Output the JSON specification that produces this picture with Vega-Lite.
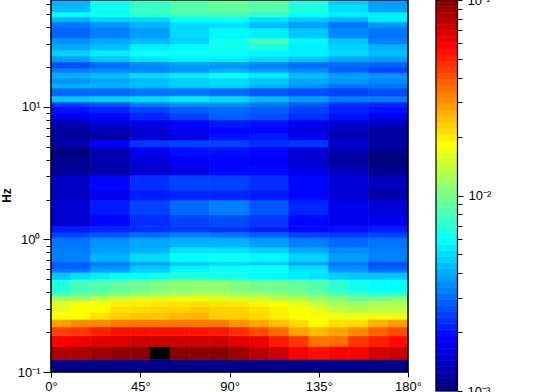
{"$schema":"https://vega.github.io/schema/vega-lite/v6.json","width":357,"height":372,"autosize":{"type":"none"},"padding":{"left":51,"top":0,"right":136,"bottom":20},"background":"white","config":{"view":{"stroke":null},"axis":{"grid":false,"labelFont":"Liberation Sans","labelFontSize":13,"labelColor":"#000","tickColor":"#000","domainColor":"#000","titleColor":"#000"}},
"datasets":{"heat":[
{"a":0,"b":180,"f":0.1,"g":0.125,"v":0.00105},
{"a":0,"b":10,"f":0.125,"g":0.156,"v":0.0794},{"a":10,"b":20,"f":0.125,"g":0.156,"v":0.0813},{"a":20,"b":30,"f":0.125,"g":0.156,"v":0.0871},{"a":30,"b":40,"f":0.125,"g":0.156,"v":0.0933},{"a":40,"b":50,"f":0.125,"g":0.156,"v":0.0933},{"a":50,"b":60,"f":0.125,"g":0.156,"v":0.12},{"a":60,"b":70,"f":0.125,"g":0.156,"v":0.0955},{"a":70,"b":80,"f":0.125,"g":0.156,"v":0.0955},{"a":80,"b":90,"f":0.125,"g":0.156,"v":0.0955},{"a":90,"b":100,"f":0.125,"g":0.156,"v":0.0871},{"a":100,"b":110,"f":0.125,"g":0.156,"v":0.0759},{"a":110,"b":120,"f":0.125,"g":0.156,"v":0.0708},{"a":120,"b":130,"f":0.125,"g":0.156,"v":0.0562},{"a":130,"b":140,"f":0.125,"g":0.156,"v":0.0525},{"a":140,"b":150,"f":0.125,"g":0.156,"v":0.0562},{"a":150,"b":160,"f":0.125,"g":0.156,"v":0.0562},{"a":160,"b":170,"f":0.125,"g":0.156,"v":0.0676},{"a":170,"b":180,"f":0.125,"g":0.156,"v":0.0708},
{"a":0,"b":10,"f":0.156,"g":0.1875,"v":0.0562},{"a":10,"b":20,"f":0.156,"g":0.1875,"v":0.0603},{"a":20,"b":30,"f":0.156,"g":0.1875,"v":0.0646},{"a":30,"b":40,"f":0.156,"g":0.1875,"v":0.0646},{"a":40,"b":50,"f":0.156,"g":0.1875,"v":0.0708},{"a":50,"b":60,"f":0.156,"g":0.1875,"v":0.0708},{"a":60,"b":70,"f":0.156,"g":0.1875,"v":0.0708},{"a":70,"b":80,"f":0.156,"g":0.1875,"v":0.0708},{"a":80,"b":90,"f":0.156,"g":0.1875,"v":0.0692},{"a":90,"b":100,"f":0.156,"g":0.1875,"v":0.0646},{"a":100,"b":110,"f":0.156,"g":0.1875,"v":0.0603},{"a":110,"b":120,"f":0.156,"g":0.1875,"v":0.0501},{"a":120,"b":130,"f":0.156,"g":0.1875,"v":0.0437},{"a":130,"b":140,"f":0.156,"g":0.1875,"v":0.0331},{"a":140,"b":150,"f":0.156,"g":0.1875,"v":0.0339},{"a":150,"b":160,"f":0.156,"g":0.1875,"v":0.0437},{"a":160,"b":170,"f":0.156,"g":0.1875,"v":0.049},{"a":170,"b":180,"f":0.156,"g":0.1875,"v":0.0537},
{"a":0,"b":10,"f":0.1875,"g":0.219,"v":0.0417},{"a":10,"b":20,"f":0.1875,"g":0.219,"v":0.0437},{"a":20,"b":30,"f":0.1875,"g":0.219,"v":0.049},{"a":30,"b":40,"f":0.1875,"g":0.219,"v":0.0525},{"a":40,"b":50,"f":0.1875,"g":0.219,"v":0.0525},{"a":50,"b":60,"f":0.1875,"g":0.219,"v":0.0525},{"a":60,"b":70,"f":0.1875,"g":0.219,"v":0.0525},{"a":70,"b":80,"f":0.1875,"g":0.219,"v":0.0513},{"a":80,"b":90,"f":0.1875,"g":0.219,"v":0.0501},{"a":90,"b":100,"f":0.1875,"g":0.219,"v":0.0457},{"a":100,"b":110,"f":0.1875,"g":0.219,"v":0.0398},{"a":110,"b":120,"f":0.1875,"g":0.219,"v":0.0347},{"a":120,"b":130,"f":0.1875,"g":0.219,"v":0.0269},{"a":130,"b":140,"f":0.1875,"g":0.219,"v":0.024},{"a":140,"b":150,"f":0.1875,"g":0.219,"v":0.0269},{"a":150,"b":160,"f":0.1875,"g":0.219,"v":0.0302},{"a":160,"b":170,"f":0.1875,"g":0.219,"v":0.0363},{"a":170,"b":180,"f":0.1875,"g":0.219,"v":0.0398},
{"a":0,"b":10,"f":0.219,"g":0.25,"v":0.0275},{"a":10,"b":20,"f":0.219,"g":0.25,"v":0.0302},{"a":20,"b":30,"f":0.219,"g":0.25,"v":0.0302},{"a":30,"b":40,"f":0.219,"g":0.25,"v":0.0324},{"a":40,"b":50,"f":0.219,"g":0.25,"v":0.0324},{"a":50,"b":60,"f":0.219,"g":0.25,"v":0.0324},{"a":60,"b":70,"f":0.219,"g":0.25,"v":0.0324},{"a":70,"b":80,"f":0.219,"g":0.25,"v":0.0324},{"a":80,"b":90,"f":0.219,"g":0.25,"v":0.0324},{"a":90,"b":100,"f":0.219,"g":0.25,"v":0.0288},{"a":100,"b":110,"f":0.219,"g":0.25,"v":0.0263},{"a":110,"b":120,"f":0.219,"g":0.25,"v":0.0236},{"a":120,"b":130,"f":0.219,"g":0.25,"v":0.0209},{"a":130,"b":140,"f":0.219,"g":0.25,"v":0.0178},{"a":140,"b":150,"f":0.219,"g":0.25,"v":0.0204},{"a":150,"b":160,"f":0.219,"g":0.25,"v":0.0209},{"a":160,"b":170,"f":0.219,"g":0.25,"v":0.0251},{"a":170,"b":180,"f":0.219,"g":0.25,"v":0.0275},
{"a":0,"b":10,"f":0.25,"g":0.281,"v":0.0178},{"a":10,"b":20,"f":0.25,"g":0.281,"v":0.0178},{"a":20,"b":30,"f":0.25,"g":0.281,"v":0.0204},{"a":30,"b":40,"f":0.25,"g":0.281,"v":0.0219},{"a":40,"b":50,"f":0.25,"g":0.281,"v":0.0229},{"a":50,"b":60,"f":0.25,"g":0.281,"v":0.0229},{"a":60,"b":70,"f":0.25,"g":0.281,"v":0.0245},{"a":70,"b":80,"f":0.25,"g":0.281,"v":0.0245},{"a":80,"b":90,"f":0.25,"g":0.281,"v":0.0219},{"a":90,"b":100,"f":0.25,"g":0.281,"v":0.0219},{"a":100,"b":110,"f":0.25,"g":0.281,"v":0.0209},{"a":110,"b":120,"f":0.25,"g":0.281,"v":0.0191},{"a":120,"b":130,"f":0.25,"g":0.281,"v":0.0178},{"a":130,"b":140,"f":0.25,"g":0.281,"v":0.0174},{"a":140,"b":150,"f":0.25,"g":0.281,"v":0.0166},{"a":150,"b":160,"f":0.25,"g":0.281,"v":0.0166},{"a":160,"b":170,"f":0.25,"g":0.281,"v":0.0166},{"a":170,"b":180,"f":0.25,"g":0.281,"v":0.0166},
{"a":0,"b":10,"f":0.281,"g":0.3125,"v":0.0158},{"a":10,"b":20,"f":0.281,"g":0.3125,"v":0.0178},{"a":20,"b":30,"f":0.281,"g":0.3125,"v":0.0178},{"a":30,"b":40,"f":0.281,"g":0.3125,"v":0.0204},{"a":40,"b":50,"f":0.281,"g":0.3125,"v":0.0209},{"a":50,"b":60,"f":0.281,"g":0.3125,"v":0.0219},{"a":60,"b":70,"f":0.281,"g":0.3125,"v":0.0219},{"a":70,"b":80,"f":0.281,"g":0.3125,"v":0.0229},{"a":80,"b":90,"f":0.281,"g":0.3125,"v":0.0219},{"a":90,"b":100,"f":0.281,"g":0.3125,"v":0.0219},{"a":100,"b":110,"f":0.281,"g":0.3125,"v":0.0204},{"a":110,"b":120,"f":0.281,"g":0.3125,"v":0.0191},{"a":120,"b":130,"f":0.281,"g":0.3125,"v":0.0178},{"a":130,"b":140,"f":0.281,"g":0.3125,"v":0.0158},{"a":140,"b":150,"f":0.281,"g":0.3125,"v":0.0135},{"a":150,"b":160,"f":0.281,"g":0.3125,"v":0.0126},{"a":160,"b":170,"f":0.281,"g":0.3125,"v":0.0132},{"a":170,"b":180,"f":0.281,"g":0.3125,"v":0.0132},
{"a":0,"b":10,"f":0.3125,"g":0.344,"v":0.0155},{"a":10,"b":20,"f":0.3125,"g":0.344,"v":0.0174},{"a":20,"b":30,"f":0.3125,"g":0.344,"v":0.0174},{"a":30,"b":40,"f":0.3125,"g":0.344,"v":0.0191},{"a":40,"b":50,"f":0.3125,"g":0.344,"v":0.0195},{"a":50,"b":60,"f":0.3125,"g":0.344,"v":0.02},{"a":60,"b":70,"f":0.3125,"g":0.344,"v":0.02},{"a":70,"b":80,"f":0.3125,"g":0.344,"v":0.0204},{"a":80,"b":90,"f":0.3125,"g":0.344,"v":0.02},{"a":90,"b":100,"f":0.3125,"g":0.344,"v":0.0195},{"a":100,"b":110,"f":0.3125,"g":0.344,"v":0.0186},{"a":110,"b":120,"f":0.3125,"g":0.344,"v":0.0178},{"a":120,"b":130,"f":0.3125,"g":0.344,"v":0.0158},{"a":130,"b":140,"f":0.3125,"g":0.344,"v":0.0138},{"a":140,"b":150,"f":0.3125,"g":0.344,"v":0.012},{"a":150,"b":160,"f":0.3125,"g":0.344,"v":0.0115},{"a":160,"b":170,"f":0.3125,"g":0.344,"v":0.0123},{"a":170,"b":180,"f":0.3125,"g":0.344,"v":0.0126},
{"a":0,"b":10,"f":0.344,"g":0.375,"v":0.0115},{"a":10,"b":20,"f":0.344,"g":0.375,"v":0.0115},{"a":20,"b":30,"f":0.344,"g":0.375,"v":0.0132},{"a":30,"b":40,"f":0.344,"g":0.375,"v":0.0145},{"a":40,"b":50,"f":0.344,"g":0.375,"v":0.0155},{"a":50,"b":60,"f":0.344,"g":0.375,"v":0.0155},{"a":60,"b":70,"f":0.344,"g":0.375,"v":0.0166},{"a":70,"b":80,"f":0.344,"g":0.375,"v":0.0166},{"a":80,"b":90,"f":0.344,"g":0.375,"v":0.0155},{"a":90,"b":100,"f":0.344,"g":0.375,"v":0.0148},{"a":100,"b":110,"f":0.344,"g":0.375,"v":0.0145},{"a":110,"b":120,"f":0.344,"g":0.375,"v":0.0132},{"a":120,"b":130,"f":0.344,"g":0.375,"v":0.0126},{"a":130,"b":140,"f":0.344,"g":0.375,"v":0.011},{"a":140,"b":150,"f":0.344,"g":0.375,"v":0.01},{"a":150,"b":160,"f":0.344,"g":0.375,"v":0.00871},{"a":160,"b":170,"f":0.344,"g":0.375,"v":0.00933},{"a":170,"b":180,"f":0.344,"g":0.375,"v":0.01},
{"a":0,"b":10,"f":0.375,"g":0.406,"v":0.00759},{"a":10,"b":20,"f":0.375,"g":0.406,"v":0.00871},{"a":20,"b":30,"f":0.375,"g":0.406,"v":0.00933},{"a":30,"b":40,"f":0.375,"g":0.406,"v":0.01},{"a":40,"b":50,"f":0.375,"g":0.406,"v":0.0107},{"a":50,"b":60,"f":0.375,"g":0.406,"v":0.0115},{"a":60,"b":70,"f":0.375,"g":0.406,"v":0.012},{"a":70,"b":80,"f":0.375,"g":0.406,"v":0.0126},{"a":80,"b":90,"f":0.375,"g":0.406,"v":0.0126},{"a":90,"b":100,"f":0.375,"g":0.406,"v":0.0115},{"a":100,"b":110,"f":0.375,"g":0.406,"v":0.0115},{"a":110,"b":120,"f":0.375,"g":0.406,"v":0.0107},{"a":120,"b":130,"f":0.375,"g":0.406,"v":0.01},{"a":130,"b":140,"f":0.375,"g":0.406,"v":0.00933},{"a":140,"b":150,"f":0.375,"g":0.406,"v":0.00811},{"a":150,"b":160,"f":0.375,"g":0.406,"v":0.00759},{"a":160,"b":170,"f":0.375,"g":0.406,"v":0.00692},{"a":170,"b":180,"f":0.375,"g":0.406,"v":0.00692},
{"a":0,"b":10,"f":0.406,"g":0.5,"v":0.00646},{"a":10,"b":20,"f":0.406,"g":0.5,"v":0.00759},{"a":20,"b":30,"f":0.406,"g":0.5,"v":0.00811},{"a":30,"b":40,"f":0.406,"g":0.5,"v":0.00871},{"a":40,"b":50,"f":0.406,"g":0.5,"v":0.00933},{"a":50,"b":60,"f":0.406,"g":0.5,"v":0.01},{"a":60,"b":70,"f":0.406,"g":0.5,"v":0.0105},{"a":70,"b":80,"f":0.406,"g":0.5,"v":0.0107},{"a":80,"b":90,"f":0.406,"g":0.5,"v":0.0107},{"a":90,"b":100,"f":0.406,"g":0.5,"v":0.01},{"a":100,"b":110,"f":0.406,"g":0.5,"v":0.00933},{"a":110,"b":120,"f":0.406,"g":0.5,"v":0.00933},{"a":120,"b":130,"f":0.406,"g":0.5,"v":0.00871},{"a":130,"b":140,"f":0.406,"g":0.5,"v":0.00811},{"a":140,"b":150,"f":0.406,"g":0.5,"v":0.00692},{"a":150,"b":160,"f":0.406,"g":0.5,"v":0.00603},{"a":160,"b":170,"f":0.406,"g":0.5,"v":0.00562},{"a":170,"b":180,"f":0.406,"g":0.5,"v":0.00562},
{"a":0,"b":10,"f":0.5,"g":0.5625,"v":0.00437},{"a":10,"b":20,"f":0.5,"g":0.5625,"v":0.0049},{"a":20,"b":30,"f":0.5,"g":0.5625,"v":0.00525},{"a":30,"b":40,"f":0.5,"g":0.5625,"v":0.00562},{"a":40,"b":50,"f":0.5,"g":0.5625,"v":0.00562},{"a":50,"b":60,"f":0.5,"g":0.5625,"v":0.00603},{"a":60,"b":70,"f":0.5,"g":0.5625,"v":0.00646},{"a":70,"b":80,"f":0.5,"g":0.5625,"v":0.00646},{"a":80,"b":90,"f":0.5,"g":0.5625,"v":0.00603},{"a":90,"b":100,"f":0.5,"g":0.5625,"v":0.00603},{"a":100,"b":110,"f":0.5,"g":0.5625,"v":0.00562},{"a":110,"b":120,"f":0.5,"g":0.5625,"v":0.0055},{"a":120,"b":130,"f":0.5,"g":0.5625,"v":0.00525},{"a":130,"b":140,"f":0.5,"g":0.5625,"v":0.00501},{"a":140,"b":150,"f":0.5,"g":0.5625,"v":0.00457},{"a":150,"b":160,"f":0.5,"g":0.5625,"v":0.00437},{"a":160,"b":170,"f":0.5,"g":0.5625,"v":0.00437},{"a":170,"b":180,"f":0.5,"g":0.5625,"v":0.00437},
{"a":0,"b":20,"f":0.5625,"g":0.594,"v":0.00316},{"a":20,"b":40,"f":0.5625,"g":0.594,"v":0.0038},{"a":40,"b":60,"f":0.5625,"g":0.594,"v":0.00457},{"a":60,"b":80,"f":0.5625,"g":0.594,"v":0.0055},{"a":80,"b":100,"f":0.5625,"g":0.594,"v":0.00603},{"a":100,"b":120,"f":0.5625,"g":0.594,"v":0.00589},{"a":120,"b":140,"f":0.5625,"g":0.594,"v":0.00501},{"a":140,"b":160,"f":0.5625,"g":0.594,"v":0.00363},{"a":160,"b":180,"f":0.5625,"g":0.594,"v":0.00302},
{"a":0,"b":20,"f":0.594,"g":0.642,"v":0.00275},{"a":20,"b":40,"f":0.594,"g":0.642,"v":0.00347},{"a":40,"b":60,"f":0.594,"g":0.642,"v":0.00437},{"a":60,"b":80,"f":0.594,"g":0.642,"v":0.00525},{"a":80,"b":100,"f":0.594,"g":0.642,"v":0.00575},{"a":100,"b":120,"f":0.594,"g":0.642,"v":0.00562},{"a":120,"b":140,"f":0.594,"g":0.642,"v":0.00479},{"a":140,"b":160,"f":0.594,"g":0.642,"v":0.00331},{"a":160,"b":180,"f":0.594,"g":0.642,"v":0.00275},
{"a":0,"b":20,"f":0.642,"g":0.676,"v":0.00275},{"a":20,"b":40,"f":0.642,"g":0.676,"v":0.00302},{"a":40,"b":60,"f":0.642,"g":0.676,"v":0.00347},{"a":60,"b":80,"f":0.642,"g":0.676,"v":0.00417},{"a":80,"b":100,"f":0.642,"g":0.676,"v":0.00457},{"a":100,"b":120,"f":0.642,"g":0.676,"v":0.00417},{"a":120,"b":140,"f":0.642,"g":0.676,"v":0.00363},{"a":140,"b":160,"f":0.642,"g":0.676,"v":0.00302},{"a":160,"b":180,"f":0.642,"g":0.676,"v":0.00251},
{"a":0,"b":20,"f":0.676,"g":0.791,"v":0.00316},{"a":20,"b":40,"f":0.676,"g":0.791,"v":0.00398},{"a":40,"b":60,"f":0.676,"g":0.791,"v":0.00479},{"a":60,"b":80,"f":0.676,"g":0.791,"v":0.00562},{"a":80,"b":100,"f":0.676,"g":0.791,"v":0.00589},{"a":100,"b":120,"f":0.676,"g":0.791,"v":0.0055},{"a":120,"b":140,"f":0.676,"g":0.791,"v":0.00457},{"a":140,"b":160,"f":0.676,"g":0.791,"v":0.00363},{"a":160,"b":180,"f":0.676,"g":0.791,"v":0.00316},
{"a":0,"b":20,"f":0.791,"g":0.877,"v":0.00316},{"a":20,"b":40,"f":0.791,"g":0.877,"v":0.00363},{"a":40,"b":60,"f":0.791,"g":0.877,"v":0.00398},{"a":60,"b":80,"f":0.791,"g":0.877,"v":0.00501},{"a":80,"b":100,"f":0.791,"g":0.877,"v":0.00501},{"a":100,"b":120,"f":0.791,"g":0.877,"v":0.00457},{"a":120,"b":140,"f":0.791,"g":0.877,"v":0.0038},{"a":140,"b":160,"f":0.791,"g":0.877,"v":0.00331},{"a":160,"b":180,"f":0.791,"g":0.877,"v":0.00316},
{"a":0,"b":20,"f":0.877,"g":1.03,"v":0.00302},{"a":20,"b":40,"f":0.877,"g":1.03,"v":0.00347},{"a":40,"b":60,"f":0.877,"g":1.03,"v":0.0038},{"a":60,"b":80,"f":0.877,"g":1.03,"v":0.00398},{"a":80,"b":100,"f":0.877,"g":1.03,"v":0.00398},{"a":100,"b":120,"f":0.877,"g":1.03,"v":0.00363},{"a":120,"b":140,"f":0.877,"g":1.03,"v":0.00316},{"a":140,"b":160,"f":0.877,"g":1.03,"v":0.00288},{"a":160,"b":180,"f":0.877,"g":1.03,"v":0.00302},
{"a":0,"b":20,"f":1.03,"g":1.14,"v":0.0024},{"a":20,"b":40,"f":1.03,"g":1.14,"v":0.00263},{"a":40,"b":60,"f":1.03,"g":1.14,"v":0.00288},{"a":60,"b":80,"f":1.03,"g":1.14,"v":0.00316},{"a":80,"b":100,"f":1.03,"g":1.14,"v":0.00302},{"a":100,"b":120,"f":1.03,"g":1.14,"v":0.00275},{"a":120,"b":140,"f":1.03,"g":1.14,"v":0.0024},{"a":140,"b":160,"f":1.03,"g":1.14,"v":0.00229},{"a":160,"b":180,"f":1.03,"g":1.14,"v":0.0024},
{"a":0,"b":20,"f":1.14,"g":1.26,"v":0.002},{"a":20,"b":40,"f":1.14,"g":1.26,"v":0.00209},{"a":40,"b":60,"f":1.14,"g":1.26,"v":0.00219},{"a":60,"b":80,"f":1.14,"g":1.26,"v":0.00229},{"a":80,"b":100,"f":1.14,"g":1.26,"v":0.00219},{"a":100,"b":120,"f":1.14,"g":1.26,"v":0.002},{"a":120,"b":140,"f":1.14,"g":1.26,"v":0.00182},{"a":140,"b":160,"f":1.14,"g":1.26,"v":0.00191},{"a":160,"b":180,"f":1.14,"g":1.26,"v":0.002},
{"a":0,"b":20,"f":1.26,"g":1.53,"v":0.00145},{"a":20,"b":40,"f":1.26,"g":1.53,"v":0.00182},{"a":40,"b":60,"f":1.26,"g":1.53,"v":0.00219},{"a":60,"b":80,"f":1.26,"g":1.53,"v":0.0024},{"a":80,"b":100,"f":1.26,"g":1.53,"v":0.00251},{"a":100,"b":120,"f":1.26,"g":1.53,"v":0.00229},{"a":120,"b":140,"f":1.26,"g":1.53,"v":0.00182},{"a":140,"b":160,"f":1.26,"g":1.53,"v":0.00166},{"a":160,"b":180,"f":1.26,"g":1.53,"v":0.00166},
{"a":0,"b":20,"f":1.53,"g":1.99,"v":0.00145},{"a":20,"b":40,"f":1.53,"g":1.99,"v":0.002},{"a":40,"b":60,"f":1.53,"g":1.99,"v":0.0024},{"a":60,"b":80,"f":1.53,"g":1.99,"v":0.00288},{"a":80,"b":100,"f":1.53,"g":1.99,"v":0.00316},{"a":100,"b":120,"f":1.53,"g":1.99,"v":0.00263},{"a":120,"b":140,"f":1.53,"g":1.99,"v":0.00209},{"a":140,"b":160,"f":1.53,"g":1.99,"v":0.00166},{"a":160,"b":180,"f":1.53,"g":1.99,"v":0.00151},
{"a":0,"b":20,"f":1.99,"g":2.36,"v":0.00138},{"a":20,"b":40,"f":1.99,"g":2.36,"v":0.00166},{"a":40,"b":60,"f":1.99,"g":2.36,"v":0.002},{"a":60,"b":80,"f":1.99,"g":2.36,"v":0.00209},{"a":80,"b":100,"f":1.99,"g":2.36,"v":0.00209},{"a":100,"b":120,"f":1.99,"g":2.36,"v":0.002},{"a":120,"b":140,"f":1.99,"g":2.36,"v":0.00182},{"a":140,"b":160,"f":1.99,"g":2.36,"v":0.00145},{"a":160,"b":180,"f":1.99,"g":2.36,"v":0.0012},
{"a":0,"b":20,"f":2.36,"g":3.07,"v":0.00138},{"a":20,"b":40,"f":2.36,"g":3.07,"v":0.00182},{"a":40,"b":60,"f":2.36,"g":3.07,"v":0.00219},{"a":60,"b":80,"f":2.36,"g":3.07,"v":0.0024},{"a":80,"b":100,"f":2.36,"g":3.07,"v":0.0024},{"a":100,"b":120,"f":2.36,"g":3.07,"v":0.00219},{"a":120,"b":140,"f":2.36,"g":3.07,"v":0.00182},{"a":140,"b":160,"f":2.36,"g":3.07,"v":0.00151},{"a":160,"b":180,"f":2.36,"g":3.07,"v":0.00132},
{"a":0,"b":20,"f":3.07,"g":3.65,"v":0.0011},{"a":20,"b":40,"f":3.07,"g":3.65,"v":0.0012},{"a":40,"b":60,"f":3.07,"g":3.65,"v":0.00145},{"a":60,"b":80,"f":3.07,"g":3.65,"v":0.00158},{"a":80,"b":100,"f":3.07,"g":3.65,"v":0.00182},{"a":100,"b":120,"f":3.07,"g":3.65,"v":0.00182},{"a":120,"b":140,"f":3.07,"g":3.65,"v":0.00158},{"a":140,"b":160,"f":3.07,"g":3.65,"v":0.00132},{"a":160,"b":180,"f":3.07,"g":3.65,"v":0.00105},
{"a":0,"b":20,"f":3.65,"g":4.34,"v":0.00105},{"a":20,"b":40,"f":3.65,"g":4.34,"v":0.00126},{"a":40,"b":60,"f":3.65,"g":4.34,"v":0.00151},{"a":60,"b":80,"f":3.65,"g":4.34,"v":0.00174},{"a":80,"b":100,"f":3.65,"g":4.34,"v":0.00182},{"a":100,"b":120,"f":3.65,"g":4.34,"v":0.00174},{"a":120,"b":140,"f":3.65,"g":4.34,"v":0.00145},{"a":140,"b":160,"f":3.65,"g":4.34,"v":0.00115},{"a":160,"b":180,"f":3.65,"g":4.34,"v":0.001},
{"a":0,"b":20,"f":4.34,"g":4.99,"v":0.001},{"a":20,"b":40,"f":4.34,"g":4.99,"v":0.00126},{"a":40,"b":60,"f":4.34,"g":4.99,"v":0.00166},{"a":60,"b":80,"f":4.34,"g":4.99,"v":0.00191},{"a":80,"b":100,"f":4.34,"g":4.99,"v":0.00191},{"a":100,"b":120,"f":4.34,"g":4.99,"v":0.00182},{"a":120,"b":140,"f":4.34,"g":4.99,"v":0.00151},{"a":140,"b":160,"f":4.34,"g":4.99,"v":0.00126},{"a":160,"b":180,"f":4.34,"g":4.99,"v":0.00105},
{"a":0,"b":20,"f":4.99,"g":5.64,"v":0.00123},{"a":20,"b":40,"f":4.99,"g":5.64,"v":0.00178},{"a":40,"b":60,"f":4.99,"g":5.64,"v":0.00229},{"a":60,"b":80,"f":4.99,"g":5.64,"v":0.0024},{"a":80,"b":100,"f":4.99,"g":5.64,"v":0.0024},{"a":100,"b":120,"f":4.99,"g":5.64,"v":0.00219},{"a":120,"b":140,"f":4.99,"g":5.64,"v":0.00229},{"a":140,"b":160,"f":4.99,"g":5.64,"v":0.00145},{"a":160,"b":180,"f":4.99,"g":5.64,"v":0.0012},
{"a":0,"b":20,"f":5.64,"g":6.37,"v":0.00115},{"a":20,"b":40,"f":5.64,"g":6.37,"v":0.0012},{"a":40,"b":60,"f":5.64,"g":6.37,"v":0.00145},{"a":60,"b":80,"f":5.64,"g":6.37,"v":0.00158},{"a":80,"b":100,"f":5.64,"g":6.37,"v":0.00191},{"a":100,"b":120,"f":5.64,"g":6.37,"v":0.002},{"a":120,"b":140,"f":5.64,"g":6.37,"v":0.00166},{"a":140,"b":160,"f":5.64,"g":6.37,"v":0.00126},{"a":160,"b":180,"f":5.64,"g":6.37,"v":0.00115},
{"a":0,"b":20,"f":6.37,"g":7.06,"v":0.00115},{"a":20,"b":40,"f":6.37,"g":7.06,"v":0.00126},{"a":40,"b":60,"f":6.37,"g":7.06,"v":0.00145},{"a":60,"b":80,"f":6.37,"g":7.06,"v":0.00166},{"a":80,"b":100,"f":6.37,"g":7.06,"v":0.00182},{"a":100,"b":120,"f":6.37,"g":7.06,"v":0.00182},{"a":120,"b":140,"f":6.37,"g":7.06,"v":0.00151},{"a":140,"b":160,"f":6.37,"g":7.06,"v":0.00132},{"a":160,"b":180,"f":6.37,"g":7.06,"v":0.00115},
{"a":0,"b":20,"f":7.06,"g":7.98,"v":0.00126},{"a":20,"b":40,"f":7.06,"g":7.98,"v":0.00145},{"a":40,"b":60,"f":7.06,"g":7.98,"v":0.00158},{"a":60,"b":80,"f":7.06,"g":7.98,"v":0.00178},{"a":80,"b":100,"f":7.06,"g":7.98,"v":0.002},{"a":100,"b":120,"f":7.06,"g":7.98,"v":0.00191},{"a":120,"b":140,"f":7.06,"g":7.98,"v":0.00166},{"a":140,"b":160,"f":7.06,"g":7.98,"v":0.00145},{"a":160,"b":180,"f":7.06,"g":7.98,"v":0.00138},
{"a":0,"b":20,"f":7.98,"g":9.01,"v":0.00166},{"a":20,"b":40,"f":7.98,"g":9.01,"v":0.00182},{"a":40,"b":60,"f":7.98,"g":9.01,"v":0.00209},{"a":60,"b":80,"f":7.98,"g":9.01,"v":0.0024},{"a":80,"b":100,"f":7.98,"g":9.01,"v":0.00275},{"a":100,"b":120,"f":7.98,"g":9.01,"v":0.00251},{"a":120,"b":140,"f":7.98,"g":9.01,"v":0.00219},{"a":140,"b":160,"f":7.98,"g":9.01,"v":0.00191},{"a":160,"b":180,"f":7.98,"g":9.01,"v":0.00166},
{"a":0,"b":20,"f":9.01,"g":10,"v":0.00191},{"a":20,"b":40,"f":9.01,"g":10,"v":0.00209},{"a":40,"b":60,"f":9.01,"g":10,"v":0.0024},{"a":60,"b":80,"f":9.01,"g":10,"v":0.00275},{"a":80,"b":100,"f":9.01,"g":10,"v":0.00288},{"a":100,"b":120,"f":9.01,"g":10,"v":0.00275},{"a":120,"b":140,"f":9.01,"g":10,"v":0.0024},{"a":140,"b":160,"f":9.01,"g":10,"v":0.00209},{"a":160,"b":180,"f":9.01,"g":10,"v":0.00191},
{"a":0,"b":20,"f":10,"g":10.9,"v":0.00229},{"a":20,"b":40,"f":10,"g":10.9,"v":0.00251},{"a":40,"b":60,"f":10,"g":10.9,"v":0.00302},{"a":60,"b":80,"f":10,"g":10.9,"v":0.00331},{"a":80,"b":100,"f":10,"g":10.9,"v":0.00331},{"a":100,"b":120,"f":10,"g":10.9,"v":0.00302},{"a":120,"b":140,"f":10,"g":10.9,"v":0.00263},{"a":140,"b":160,"f":10,"g":10.9,"v":0.00219},{"a":160,"b":180,"f":10,"g":10.9,"v":0.00209},
{"a":0,"b":20,"f":10.9,"g":12.1,"v":0.00437},{"a":20,"b":40,"f":10.9,"g":12.1,"v":0.00457},{"a":40,"b":60,"f":10.9,"g":12.1,"v":0.00479},{"a":60,"b":80,"f":10.9,"g":12.1,"v":0.00525},{"a":80,"b":100,"f":10.9,"g":12.1,"v":0.00479},{"a":100,"b":120,"f":10.9,"g":12.1,"v":0.00417},{"a":120,"b":140,"f":10.9,"g":12.1,"v":0.00363},{"a":140,"b":160,"f":10.9,"g":12.1,"v":0.00316},{"a":160,"b":180,"f":10.9,"g":12.1,"v":0.00316},
{"a":0,"b":20,"f":12.1,"g":13.9,"v":0.00288},{"a":20,"b":40,"f":12.1,"g":13.9,"v":0.00288},{"a":40,"b":60,"f":12.1,"g":13.9,"v":0.00302},{"a":60,"b":80,"f":12.1,"g":13.9,"v":0.00302},{"a":80,"b":100,"f":12.1,"g":13.9,"v":0.00288},{"a":100,"b":120,"f":12.1,"g":13.9,"v":0.00263},{"a":120,"b":140,"f":12.1,"g":13.9,"v":0.00251},{"a":140,"b":160,"f":12.1,"g":13.9,"v":0.0024},{"a":160,"b":180,"f":12.1,"g":13.9,"v":0.00251},
{"a":0,"b":20,"f":13.9,"g":14.9,"v":0.00398},{"a":20,"b":40,"f":13.9,"g":14.9,"v":0.00398},{"a":40,"b":60,"f":13.9,"g":14.9,"v":0.00417},{"a":60,"b":80,"f":13.9,"g":14.9,"v":0.00437},{"a":80,"b":100,"f":13.9,"g":14.9,"v":0.00457},{"a":100,"b":120,"f":13.9,"g":14.9,"v":0.00398},{"a":120,"b":140,"f":13.9,"g":14.9,"v":0.00347},{"a":140,"b":160,"f":13.9,"g":14.9,"v":0.00302},{"a":160,"b":180,"f":13.9,"g":14.9,"v":0.00302},
{"a":0,"b":20,"f":14.9,"g":16.6,"v":0.00347},{"a":20,"b":40,"f":14.9,"g":16.6,"v":0.0038},{"a":40,"b":60,"f":14.9,"g":16.6,"v":0.00417},{"a":60,"b":80,"f":14.9,"g":16.6,"v":0.00457},{"a":80,"b":100,"f":14.9,"g":16.6,"v":0.00479},{"a":100,"b":120,"f":14.9,"g":16.6,"v":0.00437},{"a":120,"b":140,"f":14.9,"g":16.6,"v":0.0038},{"a":140,"b":160,"f":14.9,"g":16.6,"v":0.00347},{"a":160,"b":180,"f":14.9,"g":16.6,"v":0.00331},
{"a":0,"b":20,"f":16.6,"g":18.1,"v":0.00398},{"a":20,"b":40,"f":16.6,"g":18.1,"v":0.00417},{"a":40,"b":60,"f":16.6,"g":18.1,"v":0.00479},{"a":60,"b":80,"f":16.6,"g":18.1,"v":0.00525},{"a":80,"b":100,"f":16.6,"g":18.1,"v":0.00575},{"a":100,"b":120,"f":16.6,"g":18.1,"v":0.00525},{"a":120,"b":140,"f":16.6,"g":18.1,"v":0.00417},{"a":140,"b":160,"f":16.6,"g":18.1,"v":0.00363},{"a":160,"b":180,"f":16.6,"g":18.1,"v":0.00347},
{"a":0,"b":20,"f":18.1,"g":19.7,"v":0.00316},{"a":20,"b":40,"f":18.1,"g":19.7,"v":0.00331},{"a":40,"b":60,"f":18.1,"g":19.7,"v":0.00331},{"a":60,"b":80,"f":18.1,"g":19.7,"v":0.00347},{"a":80,"b":100,"f":18.1,"g":19.7,"v":0.00398},{"a":100,"b":120,"f":18.1,"g":19.7,"v":0.00363},{"a":120,"b":140,"f":18.1,"g":19.7,"v":0.00331},{"a":140,"b":160,"f":18.1,"g":19.7,"v":0.00275},{"a":160,"b":180,"f":18.1,"g":19.7,"v":0.0024},
{"a":0,"b":20,"f":19.7,"g":21.9,"v":0.00251},{"a":20,"b":40,"f":19.7,"g":21.9,"v":0.00288},{"a":40,"b":60,"f":19.7,"g":21.9,"v":0.00331},{"a":60,"b":80,"f":19.7,"g":21.9,"v":0.00363},{"a":80,"b":100,"f":19.7,"g":21.9,"v":0.00347},{"a":100,"b":120,"f":19.7,"g":21.9,"v":0.00316},{"a":120,"b":140,"f":19.7,"g":21.9,"v":0.00288},{"a":140,"b":160,"f":19.7,"g":21.9,"v":0.00288},{"a":160,"b":180,"f":19.7,"g":21.9,"v":0.00275},
{"a":0,"b":20,"f":21.9,"g":24.3,"v":0.00363},{"a":20,"b":40,"f":21.9,"g":24.3,"v":0.00437},{"a":40,"b":60,"f":21.9,"g":24.3,"v":0.00501},{"a":60,"b":80,"f":21.9,"g":24.3,"v":0.00525},{"a":80,"b":100,"f":21.9,"g":24.3,"v":0.00525},{"a":100,"b":120,"f":21.9,"g":24.3,"v":0.00479},{"a":120,"b":140,"f":21.9,"g":24.3,"v":0.00437},{"a":140,"b":160,"f":21.9,"g":24.3,"v":0.0038},{"a":160,"b":180,"f":21.9,"g":24.3,"v":0.00363},
{"a":0,"b":20,"f":24.3,"g":26.9,"v":0.00457},{"a":20,"b":40,"f":24.3,"g":26.9,"v":0.00525},{"a":40,"b":60,"f":24.3,"g":26.9,"v":0.00589},{"a":60,"b":80,"f":24.3,"g":26.9,"v":0.00589},{"a":80,"b":100,"f":24.3,"g":26.9,"v":0.00575},{"a":100,"b":120,"f":24.3,"g":26.9,"v":0.0055},{"a":120,"b":140,"f":24.3,"g":26.9,"v":0.00525},{"a":140,"b":160,"f":24.3,"g":26.9,"v":0.00479},{"a":160,"b":180,"f":24.3,"g":26.9,"v":0.00417},
{"a":0,"b":20,"f":26.9,"g":29.9,"v":0.0038},{"a":20,"b":40,"f":26.9,"g":29.9,"v":0.00417},{"a":40,"b":60,"f":26.9,"g":29.9,"v":0.00525},{"a":60,"b":80,"f":26.9,"g":29.9,"v":0.0055},{"a":80,"b":100,"f":26.9,"g":29.9,"v":0.00603},{"a":100,"b":120,"f":26.9,"g":29.9,"v":0.00631},{"a":120,"b":140,"f":26.9,"g":29.9,"v":0.00525},{"a":140,"b":160,"f":26.9,"g":29.9,"v":0.00457},{"a":160,"b":180,"f":26.9,"g":29.9,"v":0.00398},
{"a":0,"b":20,"f":29.9,"g":33.2,"v":0.00347},{"a":20,"b":40,"f":29.9,"g":33.2,"v":0.0038},{"a":40,"b":60,"f":29.9,"g":33.2,"v":0.00417},{"a":60,"b":80,"f":29.9,"g":33.2,"v":0.00457},{"a":80,"b":100,"f":29.9,"g":33.2,"v":0.00603},{"a":100,"b":120,"f":29.9,"g":33.2,"v":0.00759},{"a":120,"b":140,"f":29.9,"g":33.2,"v":0.0055},{"a":140,"b":160,"f":29.9,"g":33.2,"v":0.00437},{"a":160,"b":180,"f":29.9,"g":33.2,"v":0.00316},
{"a":0,"b":20,"f":33.2,"g":39.5,"v":0.00282},{"a":20,"b":40,"f":33.2,"g":39.5,"v":0.00316},{"a":40,"b":60,"f":33.2,"g":39.5,"v":0.00363},{"a":60,"b":80,"f":33.2,"g":39.5,"v":0.00479},{"a":80,"b":100,"f":33.2,"g":39.5,"v":0.0055},{"a":100,"b":120,"f":33.2,"g":39.5,"v":0.00525},{"a":120,"b":140,"f":33.2,"g":39.5,"v":0.00437},{"a":140,"b":160,"f":33.2,"g":39.5,"v":0.00331},{"a":160,"b":180,"f":33.2,"g":39.5,"v":0.00302},
{"a":0,"b":20,"f":39.5,"g":43.8,"v":0.00302},{"a":20,"b":40,"f":39.5,"g":43.8,"v":0.00347},{"a":40,"b":60,"f":39.5,"g":43.8,"v":0.00398},{"a":60,"b":80,"f":39.5,"g":43.8,"v":0.00479},{"a":80,"b":100,"f":39.5,"g":43.8,"v":0.0049},{"a":100,"b":120,"f":39.5,"g":43.8,"v":0.00417},{"a":120,"b":140,"f":39.5,"g":43.8,"v":0.00363},{"a":140,"b":160,"f":39.5,"g":43.8,"v":0.00302},{"a":160,"b":180,"f":39.5,"g":43.8,"v":0.00347},
{"a":0,"b":20,"f":43.8,"g":47.8,"v":0.00398},{"a":20,"b":40,"f":43.8,"g":47.8,"v":0.00457},{"a":40,"b":60,"f":43.8,"g":47.8,"v":0.00479},{"a":60,"b":80,"f":43.8,"g":47.8,"v":0.00575},{"a":80,"b":100,"f":43.8,"g":47.8,"v":0.00575},{"a":100,"b":120,"f":43.8,"g":47.8,"v":0.00501},{"a":120,"b":140,"f":43.8,"g":47.8,"v":0.00437},{"a":140,"b":160,"f":43.8,"g":47.8,"v":0.00398},{"a":160,"b":180,"f":43.8,"g":47.8,"v":0.00525},
{"a":0,"b":20,"f":47.8,"g":52.1,"v":0.00575},{"a":20,"b":40,"f":47.8,"g":52.1,"v":0.00603},{"a":40,"b":60,"f":47.8,"g":52.1,"v":0.00692},{"a":60,"b":80,"f":47.8,"g":52.1,"v":0.00759},{"a":80,"b":100,"f":47.8,"g":52.1,"v":0.00759},{"a":100,"b":120,"f":47.8,"g":52.1,"v":0.00692},{"a":120,"b":140,"f":47.8,"g":52.1,"v":0.00575},{"a":140,"b":160,"f":47.8,"g":52.1,"v":0.00525},{"a":160,"b":180,"f":47.8,"g":52.1,"v":0.00525},
{"a":0,"b":20,"f":52.1,"g":58.9,"v":0.00417},{"a":20,"b":40,"f":52.1,"g":58.9,"v":0.00589},{"a":40,"b":60,"f":52.1,"g":58.9,"v":0.00741},{"a":60,"b":80,"f":52.1,"g":58.9,"v":0.00832},{"a":80,"b":100,"f":52.1,"g":58.9,"v":0.00891},{"a":100,"b":120,"f":52.1,"g":58.9,"v":0.00832},{"a":120,"b":140,"f":52.1,"g":58.9,"v":0.00661},{"a":140,"b":160,"f":52.1,"g":58.9,"v":0.0049},{"a":160,"b":180,"f":52.1,"g":58.9,"v":0.00372},
{"a":0,"b":20,"f":58.9,"g":64.2,"v":0.00398},{"a":20,"b":40,"f":58.9,"g":64.2,"v":0.00575},{"a":40,"b":60,"f":58.9,"g":64.2,"v":0.00692},{"a":60,"b":80,"f":58.9,"g":64.2,"v":0.00794},{"a":80,"b":100,"f":58.9,"g":64.2,"v":0.00871},{"a":100,"b":120,"f":58.9,"g":64.2,"v":0.00832},{"a":120,"b":140,"f":58.9,"g":64.2,"v":0.00631},{"a":140,"b":160,"f":58.9,"g":64.2,"v":0.00457},{"a":160,"b":180,"f":58.9,"g":64.2,"v":0.00363}
],
"bar":[
{"k":0,"m":1,"v":0.001,"w":0.0010746},{"k":0,"m":1,"v":0.0010746,"w":0.0011548},{"k":0,"m":1,"v":0.0011548,"w":0.0012409},{"k":0,"m":1,"v":0.0012409,"w":0.0013335},{"k":0,"m":1,"v":0.0013335,"w":0.001433},{"k":0,"m":1,"v":0.001433,"w":0.0015399},{"k":0,"m":1,"v":0.0015399,"w":0.0016548},{"k":0,"m":1,"v":0.0016548,"w":0.0017783},{"k":0,"m":1,"v":0.0017783,"w":0.001911},{"k":0,"m":1,"v":0.001911,"w":0.0020535},{"k":0,"m":1,"v":0.0020535,"w":0.0022067},{"k":0,"m":1,"v":0.0022067,"w":0.0023714},{"k":0,"m":1,"v":0.0023714,"w":0.0025483},{"k":0,"m":1,"v":0.0025483,"w":0.0027384},{"k":0,"m":1,"v":0.0027384,"w":0.0029427},{"k":0,"m":1,"v":0.0029427,"w":0.0031623},{"k":0,"m":1,"v":0.0031623,"w":0.0033982},{"k":0,"m":1,"v":0.0033982,"w":0.0036517},{"k":0,"m":1,"v":0.0036517,"w":0.0039242},{"k":0,"m":1,"v":0.0039242,"w":0.004217},{"k":0,"m":1,"v":0.004217,"w":0.0045316},{"k":0,"m":1,"v":0.0045316,"w":0.0048697},{"k":0,"m":1,"v":0.0048697,"w":0.005233},{"k":0,"m":1,"v":0.005233,"w":0.0056234},{"k":0,"m":1,"v":0.0056234,"w":0.006043},{"k":0,"m":1,"v":0.006043,"w":0.0064938},{"k":0,"m":1,"v":0.0064938,"w":0.0069783},{"k":0,"m":1,"v":0.0069783,"w":0.0074989},{"k":0,"m":1,"v":0.0074989,"w":0.0080584},{"k":0,"m":1,"v":0.0080584,"w":0.0086596},{"k":0,"m":1,"v":0.0086596,"w":0.0093057},{"k":0,"m":1,"v":0.0093057,"w":0.01},
{"k":0,"m":1,"v":0.01,"w":0.010746},{"k":0,"m":1,"v":0.010746,"w":0.011548},{"k":0,"m":1,"v":0.011548,"w":0.012409},{"k":0,"m":1,"v":0.012409,"w":0.013335},{"k":0,"m":1,"v":0.013335,"w":0.01433},{"k":0,"m":1,"v":0.01433,"w":0.015399},{"k":0,"m":1,"v":0.015399,"w":0.016548},{"k":0,"m":1,"v":0.016548,"w":0.017783},{"k":0,"m":1,"v":0.017783,"w":0.01911},{"k":0,"m":1,"v":0.01911,"w":0.020535},{"k":0,"m":1,"v":0.020535,"w":0.022067},{"k":0,"m":1,"v":0.022067,"w":0.023714},{"k":0,"m":1,"v":0.023714,"w":0.025483},{"k":0,"m":1,"v":0.025483,"w":0.027384},{"k":0,"m":1,"v":0.027384,"w":0.029427},{"k":0,"m":1,"v":0.029427,"w":0.031623},{"k":0,"m":1,"v":0.031623,"w":0.033982},{"k":0,"m":1,"v":0.033982,"w":0.036517},{"k":0,"m":1,"v":0.036517,"w":0.039242},{"k":0,"m":1,"v":0.039242,"w":0.04217},{"k":0,"m":1,"v":0.04217,"w":0.045316},{"k":0,"m":1,"v":0.045316,"w":0.048697},{"k":0,"m":1,"v":0.048697,"w":0.05233},{"k":0,"m":1,"v":0.05233,"w":0.056234},{"k":0,"m":1,"v":0.056234,"w":0.06043},{"k":0,"m":1,"v":0.06043,"w":0.064938},{"k":0,"m":1,"v":0.064938,"w":0.069783},{"k":0,"m":1,"v":0.069783,"w":0.074989},{"k":0,"m":1,"v":0.074989,"w":0.080584},{"k":0,"m":1,"v":0.080584,"w":0.086596},{"k":0,"m":1,"v":0.086596,"w":0.093057},{"k":0,"m":1,"v":0.093057,"w":0.1}
]},
"layer":[
{"data":{"name":"heat"},"mark":{"type":"rect","strokeWidth":0.6},
"encoding":{"x":{"field":"a","type":"quantitative","scale":{"domain":[0,180],"nice":false,"zero":false},"axis":{"values":[0,45,90,135,180],"labelExpr":"datum.value+'°'","title":null,"tickSize":5,"domain":false,"zindex":1,"labelPadding":3,"labelFlush":false}},"x2":{"field":"b"},
"y":{"field":"f","type":"quantitative","scale":{"type":"log","domain":[0.1,64.2],"nice":false},"axis":{"values":[0.1,0.2,0.3,0.4,0.5,0.6,0.7,0.8,0.9,1,2,3,4,5,6,7,8,9,10,20,30,40,50,60],"labelExpr":"datum.value==0.1?'10⁻¹':datum.value==1?'10⁰':datum.value==10?'10¹':''","title":"Hz","titleFont":"Liberation Sans","titleFontSize":12,"titleFontWeight":"bold","titleX":-38,"titleY":195,"tickSize":{"condition":{"test":"datum.value==0.1||datum.value==1||datum.value==10","value":8},"value":5},"domain":false,"zindex":1,"labelPadding":3,"labelOverlap":false,"labelFlush":false}},"y2":{"field":"g"},
"color":{"condition":{"test":"datum.v>0.1","value":"#000000"},"field":"v","type":"quantitative","scale":{"type":"log","domain":[0.001,0.00178,0.00316,0.00562,0.01,0.0178,0.0316,0.0562,0.1],"range":["#00007f","#0000ff","#007fff","#00ffff","#7fff7f","#ffff00","#ff7f00","#ff0000","#7f0000"],"interpolate":"rgb","clamp":true},"legend":null},
"stroke":{"condition":{"test":"datum.v>0.1","value":"#000000"},"field":"v","type":"quantitative","scale":{"type":"log","domain":[0.001,0.00178,0.00316,0.00562,0.01,0.0178,0.0316,0.0562,0.1],"range":["#00007f","#0000ff","#007fff","#00ffff","#7fff7f","#ffff00","#ff7f00","#ff0000","#7f0000"],"interpolate":"rgb","clamp":true},"legend":null}}},
{"data":{"values":[{"a":0,"b":180,"f":0.1,"g":64.2}]},"mark":{"type":"rect","fill":"transparent","stroke":"#000","strokeWidth":1.5},
"encoding":{"x":{"field":"a","type":"quantitative","scale":{"domain":[0,180],"nice":false,"zero":false},"axis":null},"x2":{"field":"b"},"y":{"field":"f","type":"quantitative","scale":{"type":"log","domain":[0.1,64.2],"nice":false},"axis":null},"y2":{"field":"g"}}},
{"data":{"name":"bar"},"mark":{"type":"rect","strokeWidth":0.6},
"encoding":{"x":{"field":"k","type":"quantitative","scale":{"domain":[0,1],"range":[385,406.5],"nice":false,"zero":false},"axis":null},"x2":{"field":"m"},
"y":{"field":"v","type":"quantitative","scale":{"type":"log","domain":[0.001,0.1],"range":[391,0],"nice":false},"axis":{"orient":"right","offset":49,"values":[0.001,0.002,0.003,0.004,0.005,0.006,0.007,0.008,0.009,0.01,0.02,0.03,0.04,0.05,0.06,0.07,0.08,0.09,0.1],"labelExpr":"datum.value==0.001?'10⁻³':datum.value==0.01?'10⁻²':datum.value==0.1?'10⁻¹':''","title":null,"tickSize":{"condition":{"test":"datum.value==0.01","value":6},"value":5},"domain":false,"zindex":1,"labelPadding":5,"labelOverlap":false,"labelFlush":false}},"y2":{"field":"w"},
"color":{"field":"v","type":"quantitative","legend":null},"stroke":{"field":"v","type":"quantitative","legend":null}}},
{"data":{"values":[{"k":0,"m":1,"v":0.001,"w":0.1}]},"mark":{"type":"rect","fill":"transparent","stroke":"#000","strokeWidth":1.2},
"encoding":{"x":{"field":"k","type":"quantitative","scale":{"domain":[0,1],"range":[385,406.5],"nice":false,"zero":false},"axis":null},"x2":{"field":"m"},"y":{"field":"v","type":"quantitative","scale":{"type":"log","domain":[0.001,0.1],"range":[391,0],"nice":false},"axis":null},"y2":{"field":"w"}}}
],
"resolve":{"scale":{"x":"independent","y":"independent"}}}
